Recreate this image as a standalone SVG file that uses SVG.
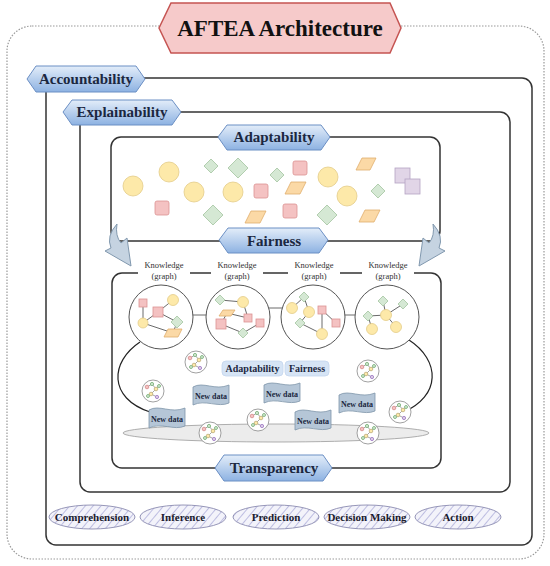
<svg xmlns="http://www.w3.org/2000/svg" width="550" height="566" viewBox="0 0 550 566">
<defs>
<linearGradient id="blueGrad" x1="0" y1="0" x2="0" y2="1">
<stop offset="0" stop-color="#e3edf9"/>
<stop offset="1" stop-color="#8db2e2"/>
</linearGradient>
<pattern id="hatch" patternUnits="userSpaceOnUse" width="6" height="6" patternTransform="rotate(40)">
<rect width="6" height="6" fill="#f3f3fa"/>
<line x1="0" y1="0" x2="0" y2="6" stroke="#a0a0d4" stroke-width="1.3"/>
</pattern>
<g id="mini">
<circle r="11" fill="#fff" stroke="#888" stroke-width="0.8"/>
<path d="M-6,-4 L-1,-7 L3,-2 L-2,3 L4,6 M3,-2 L6,-5 M-2,3 L-5,5" fill="none" stroke="#666" stroke-width="0.6"/>
<circle cx="-6" cy="-4" r="1.8" fill="#f4c2c2" stroke="#d99"/>
<circle cx="-1" cy="-7" r="1.6" fill="#d5e8d4" stroke="#8b8"/>
<circle cx="3" cy="-2" r="1.8" fill="#fde9a9" stroke="#cb8"/>
<circle cx="6" cy="-5" r="1.5" fill="#d5e8d4" stroke="#8b8"/>
<circle cx="-2" cy="3" r="1.8" fill="#fde9a9" stroke="#cb8"/>
<circle cx="4" cy="6" r="1.6" fill="#e1d5e7" stroke="#a8c"/>
<circle cx="-5" cy="5" r="1.5" fill="#d5e8d4" stroke="#8b8"/>
</g>
<path id="flag" d="M0,2 C10,-4 22,6 36,0 L36,18 C25,23 12,14 0,20 Z"/>
</defs>
<style>
.frame{fill:none;stroke:#999;stroke-width:1.2;stroke-dasharray:1.5 1.5}
.box{fill:none;stroke:#333;stroke-width:1.5}
.hex{fill:url(#blueGrad);stroke:#6b8fc4;stroke-width:1}
.ht{font-family:"Liberation Serif",serif;font-weight:bold;font-size:15px;fill:#1b2740;text-anchor:middle}
.kt{font-family:"Liberation Serif",serif;font-size:8.5px;fill:#333;text-anchor:middle}
.yc{fill:#fde9a9;stroke:#e3cc88;stroke-width:0.8}
.ps{fill:#f4c2c2;stroke:#dc9393;stroke-width:0.8}
.gd{fill:#d5e8d4;stroke:#a3c49f;stroke-width:0.8}
.op{fill:#fbd9a6;stroke:#e0ad6c;stroke-width:0.8}
.pu{fill:#e1d5e7;stroke:#b5a3c4;stroke-width:0.8}
.kc{fill:#fff;stroke:#555;stroke-width:1}
.ed{stroke:#444;stroke-width:0.8;fill:none}
.fl{fill:#b5c6d7;stroke:#7f95aa;stroke-width:0.8}
.ft{font-family:"Liberation Serif",serif;font-weight:bold;font-size:8px;fill:#1b2740;text-anchor:middle}
.arr{fill:#c5d3e1;stroke:#8198ae;stroke-width:1}
.ov{fill:url(#hatch);stroke:#8a8ab0;stroke-width:0.9}
.ot{font-family:"Liberation Serif",serif;font-weight:bold;font-size:11px;fill:#1b1b2e;text-anchor:middle}
.bd{fill:#d6e4f5;stroke:#c4d6ee;stroke-width:0.8}
.bt{font-family:"Liberation Serif",serif;font-weight:bold;font-size:10px;fill:#1b2740;text-anchor:middle}
</style>

<rect class="frame" x="7" y="26" width="537" height="533" rx="25"/>

<g id="boxes">
<rect class="box" x="46" y="78" width="486" height="467" rx="10"/>
<rect class="box" x="80" y="112" width="430" height="380" rx="10"/>
<rect class="box" x="111" y="137" width="329" height="104" rx="10"/>
<rect class="box" x="112" y="273" width="329" height="195" rx="10"/>
</g>

<g id="title">
<polygon points="159,28 171,3 390,3 401,28 390,53 171,53" fill="#f6caca" stroke="#c55452" stroke-width="1.5"/>
<text x="280" y="36" font-family="Liberation Serif, serif" font-weight="bold" font-size="23" fill="#111" text-anchor="middle">AFTEA Architecture</text>
</g>

<g id="adaptability-shapes">
<circle class="yc" cx="133" cy="186" r="10"/>
<circle class="yc" cx="169" cy="172" r="10"/>
<circle class="yc" cx="194" cy="192" r="10"/>
<circle class="yc" cx="233" cy="192" r="10"/>
<circle class="yc" cx="328" cy="177" r="10"/>
<circle class="yc" cx="347" cy="196" r="10"/>
<rect class="ps" x="155" y="201" width="14" height="14" rx="2"/>
<rect class="ps" x="254" y="184" width="14" height="14" rx="2"/>
<rect class="ps" x="293" y="161" width="14" height="14" rx="2"/>
<rect class="ps" x="283" y="204" width="14" height="14" rx="2"/>
<polygon class="gd" points="211,159 218,166 211,173 204,166"/>
<polygon class="gd" points="238,158 248,168 238,178 228,168"/>
<polygon class="gd" points="277,168 284,175 277,182 270,175"/>
<polygon class="gd" points="213,205 223,215 213,225 203,215"/>
<polygon class="gd" points="327,205 337,215 327,225 317,215"/>
<polygon class="gd" points="378,184 385,191 378,198 371,191"/>
<polygon class="op" points="356,170 362,158 376,158 370,170"/>
<polygon class="op" points="285,194 291,182 306,182 300,194"/>
<polygon class="op" points="245,223 251,211 266,211 260,223"/>
<polygon class="op" points="359,222 365,210 380,210 374,222"/>
<rect class="pu" x="395" y="168" width="15" height="15"/>
<rect class="pu" x="405" y="179" width="15" height="15"/>
</g>

<g id="arrows">
<path class="arr" d="M117,224 Q106,236 111,248 L105,251 L131,266 L127,238 L121,243 Q115,236 117,224 Z"/>
<path class="arr" d="M433,224 Q444,236 439,248 L445,251 L419,266 L423,238 L429,243 Q435,236 433,224 Z"/>
</g>

<g id="knowledge-labels">
<rect x="138" y="257" width="52" height="24" fill="#fff"/>
<rect x="211" y="257" width="52" height="24" fill="#fff"/>
<rect x="288" y="257" width="52" height="24" fill="#fff"/>
<rect x="362" y="257" width="52" height="24" fill="#fff"/>
<text class="kt" x="164" y="268">Knowledge</text><text class="kt" x="164" y="279">(graph)</text>
<text class="kt" x="237" y="268">Knowledge</text><text class="kt" x="237" y="279">(graph)</text>
<text class="kt" x="314" y="268">Knowledge</text><text class="kt" x="314" y="279">(graph)</text>
<text class="kt" x="388" y="268">Knowledge</text><text class="kt" x="388" y="279">(graph)</text>
</g>

<g id="connectors">
<path class="ed" d="M192,315 L207,315 M269,308 L282,308 M344,315 L356,315" stroke-width="1.2"/>
<path d="M140,342 C110,362 108,398 150,412" fill="none" stroke="#222" stroke-width="1.2"/>
<path d="M409,340 C440,360 442,396 402,413" fill="none" stroke="#222" stroke-width="1.2"/>
</g>

<ellipse cx="276" cy="433" rx="153" ry="9" fill="#ececec" stroke="#9a9a9a" stroke-width="0.8"/>

<g id="kg1">
<circle class="kc" cx="161" cy="317" r="32"/>
<path class="ed" d="M143,303 L143,323 M158,312 L173,300 M143,323 L158,312 L177,322 M143,323 L173,333 M177,322 L173,333"/>
<rect class="ps" x="139" y="299" width="8" height="8"/>
<circle class="yc" cx="173" cy="300" r="5.5"/>
<rect class="ps" x="153" y="307" width="10" height="10"/>
<circle class="yc" cx="143" cy="323" r="5"/>
<polygon class="gd" points="177,316 183,322 177,328 171,322"/>
<polygon class="op" points="164,337 168,329 182,329 178,337"/>
</g>
<g id="kg2">
<circle class="kc" cx="238" cy="317" r="32"/>
<path class="ed" d="M220,300 L243,302 L248,318 M227,313 L248,318 M221,324 L243,333 L260,323 M227,313 L221,324"/>
<polygon class="gd" points="220,295 225,300 220,305 215,300"/>
<circle class="yc" cx="243" cy="302" r="5.5"/>
<polygon class="op" points="219,316 223,310 235,310 231,316"/>
<rect class="ps" x="244" y="314" width="8" height="8"/>
<rect class="ps" x="256" y="319" width="8" height="8"/>
<rect class="ps" x="216" y="319" width="10" height="10"/>
<polygon class="gd" points="243,328 248,333 243,338 238,333"/>
</g>
<g id="kg3">
<circle class="kc" cx="313" cy="317" r="32"/>
<path class="ed" d="M304,297 L292,308 M304,297 L309,312 L300,323 L322,334 M322,310 L336,323 M322,310 L322,334"/>
<polygon class="gd" points="304,292 309,297 304,302 299,297"/>
<circle class="yc" cx="292" cy="308" r="5.5"/>
<circle class="yc" cx="309" cy="312" r="5.5"/>
<rect class="ps" x="318" y="306" width="8" height="8"/>
<rect class="ps" x="332" y="319" width="8" height="8"/>
<polygon class="gd" points="300,318 305,323 300,328 295,323"/>
<circle class="yc" cx="322" cy="334" r="5.5"/>
</g>
<g id="kg4">
<circle class="kc" cx="387" cy="317" r="32"/>
<path class="ed" d="M383,301 L386,315 M403,304 L386,315 M368,316 L386,315 M368,316 L372,329 M386,315 L396,327"/>
<polygon class="gd" points="383,296 388,301 383,306 378,301"/>
<polygon class="gd" points="403,299 408,304 403,309 398,304"/>
<circle class="yc" cx="386" cy="315" r="5.5"/>
<polygon class="gd" points="368,311 373,316 368,321 363,316"/>
<circle class="yc" cx="372" cy="329" r="5.5"/>
<circle class="yc" cx="396" cy="327" r="5.5"/>
</g>

<g id="badges">
<rect class="bd" x="222" y="361" width="61" height="15" rx="4"/>
<text class="bt" x="252.5" y="372">Adaptability</text>
<rect class="bd" x="285" y="361" width="44" height="15" rx="4"/>
<text class="bt" x="307" y="372">Fairness</text>
</g>

<g id="mini-graphs">
<use href="#mini" x="196" y="362"/>
<use href="#mini" x="153" y="391"/>
<use href="#mini" x="210" y="433"/>
<use href="#mini" x="258" y="420"/>
<use href="#mini" x="368" y="371"/>
<use href="#mini" x="400" y="412"/>
<use href="#mini" x="368" y="433"/>
</g>

<g id="new-data">
<use href="#flag" class="fl" x="149" y="408"/><text class="ft" x="167" y="422">New data</text>
<use href="#flag" class="fl" x="193" y="385"/><text class="ft" x="211" y="399">New data</text>
<use href="#flag" class="fl" x="264" y="383"/><text class="ft" x="282" y="397">New data</text>
<use href="#flag" class="fl" x="295" y="410"/><text class="ft" x="313" y="424">New data</text>
<use href="#flag" class="fl" x="339" y="393"/><text class="ft" x="357" y="407">New data</text>
</g>

<g id="labels">
<g id="accountability"><polygon class="hex" points="27,79 36,66 136,66 145,79 136,92 36,92"/><text class="ht" x="86" y="84">Accountability</text></g>
<g id="explainability"><polygon class="hex" points="63,112 72,100 172,100 181,112 172,125 72,125"/><text class="ht" x="122" y="117">Explainability</text></g>
<g id="adaptability"><polygon class="hex" points="218,137 227,125 321,125 330,137 321,150 227,150"/><text class="ht" x="274" y="142">Adaptability</text></g>
<g id="fairness"><polygon class="hex" points="219,240 228,228 319,228 328,240 319,253 228,253"/><text class="ht" x="274" y="246">Fairness</text></g>
<g id="transparency"><polygon class="hex" points="215,468 224,455 323,455 332,468 323,481 224,481"/><text class="ht" x="274" y="473">Transparency</text></g>
</g>

<g id="outcomes">
<ellipse class="ov" cx="92" cy="517" rx="43" ry="12"/><text class="ot" x="92" y="521">Comprehension</text>
<ellipse class="ov" cx="183" cy="517" rx="43" ry="12"/><text class="ot" x="183" y="521">Inference</text>
<ellipse class="ov" cx="276" cy="517" rx="43" ry="12"/><text class="ot" x="276" y="521">Prediction</text>
<ellipse class="ov" cx="367" cy="517" rx="43" ry="12"/><text class="ot" x="367" y="521">Decision Making</text>
<ellipse class="ov" cx="458" cy="517" rx="43" ry="12"/><text class="ot" x="458" y="521">Action</text>
</g>
</svg>
